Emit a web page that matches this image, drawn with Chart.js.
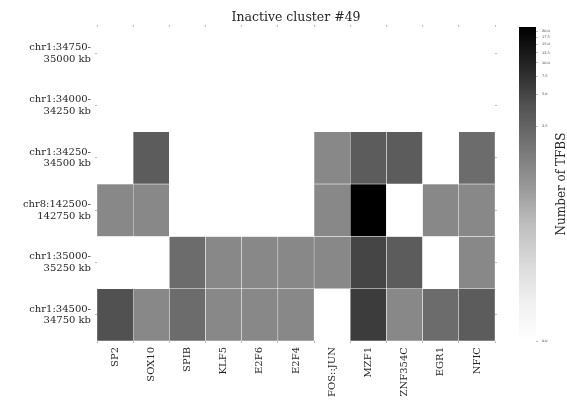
<!DOCTYPE html>
<html>
<head>
<meta charset="utf-8">
<script src="https://cdn.jsdelivr.net/npm/chart.js@4.4.1/dist/chart.umd.min.js"></script>
<style>
  html, body { margin: 0; padding: 0; background: #fff; }
  #wrap { position: relative; width: 567px; height: 403px; }
  #heat { position: absolute; left: 0; top: 0; }
  #cbar { position: absolute; left: 505px; top: 0; }
</style>
</head>
<body>
<div id="wrap">
  <canvas id="heat" width="567" height="403"></canvas>
  <canvas id="cbar" width="62" height="403"></canvas>
</div>
<script>
// Motifs (columns) and genomic windows (rows, top to bottom)
const motifs = ['SP2', 'SOX10', 'SPIB', 'KLF5', 'E2F6', 'E2F4', 'FOS::JUN', 'MZF1', 'ZNF354C', 'EGR1', 'NFIC'];
const regions = [
  'chr1:34750-35000 kb',
  'chr1:34000-34250 kb',
  'chr1:34250-34500 kb',
  'chr8:142500-142750 kb',
  'chr1:35000-35250 kb',
  'chr1:34500-34750 kb'
];

// Number of TFBS per motif in each window
const tfbsChr1_34750 = [0, 0, 0, 0, 0, 0, 0, 0, 0, 0, 0];
const tfbsChr1_34000 = [0, 0, 0, 0, 0, 0, 0, 0, 0, 0, 0];
const tfbsChr1_34250 = [0, 3, 0, 0, 0, 0, 1, 3, 3, 0, 2];
const tfbsChr8_142500 = [1, 1, 0, 0, 0, 0, 1, 22, 0, 1, 1];
const tfbsChr1_35000 = [0, 0, 2, 1, 1, 1, 1, 5, 3, 0, 1];
const tfbsChr1_34500 = [4, 1, 2, 1, 1, 1, 0, 6, 1, 2, 3];

// Colour bar tick labels
const colorbarTicks = [0, 2.5, 5, 7.5, 10, 12.5, 15, 17.5, 20];

const rowCounts = [tfbsChr1_34750, tfbsChr1_34000, tfbsChr1_34250, tfbsChr8_142500, tfbsChr1_35000, tfbsChr1_34500];

// Symmetric-log colour normalisation
const LIN_THRESH = 1;
const LIN_SCALE = 1.65;
const VMAX = Math.max(...rowCounts.flat());
function symlog(v) {
  return v <= LIN_THRESH ? LIN_SCALE * v / LIN_THRESH : LIN_SCALE + Math.log10(v / LIN_THRESH);
}
function norm(v) { return symlog(v) / symlog(VMAX); }

// "Greys" colour map
const GREYS = [255, 240, 217, 189, 150, 115, 82, 37, 0];
function greys(f) {
  f = Math.min(1, Math.max(0, f));
  const x = f * 8;
  const i = Math.min(7, Math.floor(x));
  const t = x - i;
  const g = Math.round(GREYS[i] + (GREYS[i + 1] - GREYS[i]) * t);
  return `rgb(${g},${g},${g})`;
}

const TEXT = '#262626';
const TICK = 'rgba(38,38,38,0.3)';
const SERIF = 'DejaVu Serif';
const ROW_SPAN = 1;

const rowTicks = s => { s.ticks = regions.map((_, i) => ({ value: i + ROW_SPAN / 2 })); };

new Chart(document.getElementById('heat'), {
  type: 'bar',
  data: {
    labels: motifs,
    datasets: rowCounts.map((counts, r) => ({
      label: regions[r],
      data: counts.map(() => ROW_SPAN),
      backgroundColor: counts.map(c => greys(norm(c))),
      borderColor: '#ffffff',
      borderWidth: 0.5,
      borderSkipped: false,
      barPercentage: 1,
      categoryPercentage: 1
    }))
  },
  options: {
    responsive: false,
    animation: false,
    layout: { padding: 0 },
    plugins: {
      legend: { display: false },
      tooltip: { enabled: false },
      title: {
        display: true,
        text: 'Inactive cluster #49',
        fullSize: false,
        color: TEXT,
        font: { family: SERIF, size: 12.5, weight: 'normal', lineHeight: 1.2 },
        padding: { top: 10, bottom: 0 }
      }
    },
    scales: {
      x: {
        stacked: true,
        position: 'bottom',
        grid: { drawOnChartArea: false, tickLength: 2, color: TICK },
        border: { display: false },
        ticks: {
          minRotation: 90, maxRotation: 90, autoSkip: false, padding: 4,
          color: TEXT, font: { family: SERIF, size: 10 }
        },
        afterFit: s => { s.height = 62; }
      },
      x2: {
        type: 'category',
        labels: motifs,
        position: 'top',
        grid: { drawOnChartArea: false, tickLength: 2, color: TICK },
        border: { display: false },
        ticks: { display: false },
        afterFit: s => { s.height = 2; }
      },
      y: {
        stacked: true,
        reverse: true,
        min: 0,
        max: regions.length * ROW_SPAN,
        afterBuildTicks: rowTicks,
        grid: { drawOnChartArea: false, tickLength: 2, color: TICK },
        border: { display: false },
        ticks: {
          padding: 4,
          color: TEXT,
          font: { family: SERIF, size: 10, lineHeight: 1.15 },
          callback: v => regions[Math.floor(v / ROW_SPAN)].split(/(?<=-)/)
        },
        afterFit: s => { s.width = 97; }
      },
      y2: {
        position: 'right',
        reverse: true,
        min: 0,
        max: regions.length * ROW_SPAN,
        afterBuildTicks: rowTicks,
        grid: { drawOnChartArea: false, tickLength: 2, color: TICK },
        border: { display: false },
        ticks: { display: false },
        afterFit: s => { s.width = 72; }
      }
    }
  }
});

// Colour bar
const colorbarLabel = {
  id: 'colorbarLabel',
  afterDraw(chart) {
    const { ctx, chartArea } = chart;
    ctx.save();
    ctx.translate(chart.width - 5, (chartArea.top + chartArea.bottom) / 2);
    ctx.rotate(-Math.PI / 2);
    ctx.font = `12px "${SERIF}"`;
    ctx.fillStyle = TEXT;
    ctx.textAlign = 'center';
    ctx.textBaseline = 'middle';
    ctx.fillText('Number of TFBS', 0, 0);
    ctx.restore();
  }
};

new Chart(document.getElementById('cbar'), {
  type: 'bar',
  data: {
    labels: [''],
    datasets: [{
      data: [[norm(0), norm(VMAX)]],
      backgroundColor: c => {
        const area = c.chart.chartArea;
        if (!area) return null;
        const g = c.chart.ctx.createLinearGradient(0, area.bottom, 0, area.top);
        for (let k = 0; k <= 8; k++) g.addColorStop(k / 8, greys(k / 8));
        return g;
      },
      borderWidth: 0,
      barPercentage: 1,
      categoryPercentage: 1
    }]
  },
  options: {
    responsive: false,
    animation: false,
    layout: { padding: { left: 14, top: 27, bottom: 62, right: 0 } },
    plugins: { legend: { display: false }, tooltip: { enabled: false } },
    scales: {
      x: { display: false },
      y: {
        position: 'right',
        min: 0,
        max: 1,
        afterBuildTicks: s => { s.ticks = colorbarTicks.map(v => ({ value: norm(v) })); },
        grid: { drawOnChartArea: false, tickLength: 2, color: TICK },
        border: { display: false },
        ticks: {
          padding: 4,
          color: TEXT,
          font: { family: SERIF, size: 3.5 },
          callback: (v, i) => colorbarTicks[i].toFixed(1)
        },
        afterFit: s => { s.width = 31; }
      }
    }
  },
  plugins: [colorbarLabel]
});
</script>
</body>
</html>
